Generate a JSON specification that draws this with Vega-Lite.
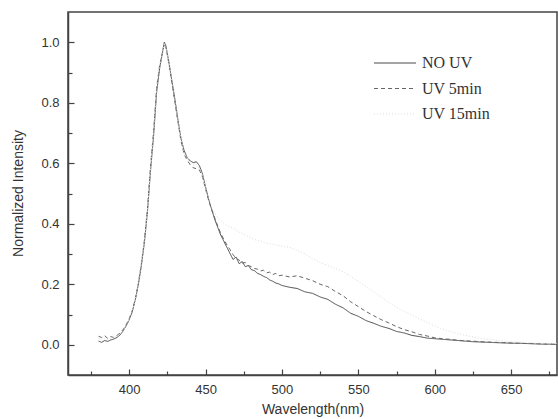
{
  "$schema": "https://vega.github.io/schema/vega-lite/v6.json",
  "autosize": {"type": "none"},
  "padding": {"left": 68, "top": 12, "right": 1, "bottom": 44},
  "width": 489,
  "height": 363,
  "background": "white",
  "config": {
    "view": {"stroke": "#444", "strokeWidth": 1.5},
    "axis": {
      "domainColor": "#444",
      "domainWidth": 1.5,
      "tickColor": "#444",
      "tickWidth": 1.2,
      "grid": false,
      "labelFont": "Liberation Sans",
      "labelFontSize": 13,
      "labelColor": "#333",
      "titleFont": "Liberation Sans",
      "titleFontSize": 14,
      "titleFontWeight": "normal",
      "titleColor": "#333"
    }
  },
  "data": {
    "values": [
      {"w": 380, "a": 0.012, "b": 0.028, "c": 0.020},
      {"w": 382, "a": 0.008, "b": 0.024, "c": 0.018},
      {"w": 384, "a": 0.014, "b": 0.030, "c": 0.022},
      {"w": 386, "a": 0.011, "b": 0.021, "c": 0.017},
      {"w": 388, "a": 0.016, "b": 0.027, "c": 0.021},
      {"w": 390, "a": 0.019, "b": 0.024, "c": 0.023},
      {"w": 392, "a": 0.024, "b": 0.031, "c": 0.028},
      {"w": 394, "a": 0.032, "b": 0.038, "c": 0.035},
      {"w": 396, "a": 0.045, "b": 0.050, "c": 0.047},
      {"w": 398, "a": 0.062, "b": 0.066, "c": 0.064},
      {"w": 400, "a": 0.082, "b": 0.086, "c": 0.084},
      {"w": 402, "a": 0.108, "b": 0.112, "c": 0.110},
      {"w": 404, "a": 0.148, "b": 0.150, "c": 0.150},
      {"w": 406, "a": 0.198, "b": 0.202, "c": 0.200},
      {"w": 408, "a": 0.262, "b": 0.268, "c": 0.265},
      {"w": 410, "a": 0.338, "b": 0.345, "c": 0.342},
      {"w": 412, "a": 0.440, "b": 0.450, "c": 0.445},
      {"w": 414, "a": 0.575, "b": 0.590, "c": 0.582},
      {"w": 416, "a": 0.690, "b": 0.705, "c": 0.698},
      {"w": 418, "a": 0.835, "b": 0.850, "c": 0.842},
      {"w": 420, "a": 0.915, "b": 0.925, "c": 0.920},
      {"w": 422, "a": 0.972, "b": 0.968, "c": 0.970},
      {"w": 423, "a": 1.000, "b": 0.995, "c": 0.998},
      {"w": 424, "a": 0.990, "b": 0.985, "c": 0.988},
      {"w": 426, "a": 0.935, "b": 0.930, "c": 0.935},
      {"w": 428, "a": 0.872, "b": 0.865, "c": 0.870},
      {"w": 430, "a": 0.810, "b": 0.800, "c": 0.805},
      {"w": 432, "a": 0.742, "b": 0.735, "c": 0.740},
      {"w": 434, "a": 0.680, "b": 0.672, "c": 0.676},
      {"w": 436, "a": 0.642, "b": 0.630, "c": 0.636},
      {"w": 438, "a": 0.618, "b": 0.610, "c": 0.615},
      {"w": 440, "a": 0.608, "b": 0.595, "c": 0.602},
      {"w": 442, "a": 0.602, "b": 0.585, "c": 0.594},
      {"w": 444, "a": 0.605, "b": 0.582, "c": 0.595},
      {"w": 446, "a": 0.592, "b": 0.578, "c": 0.585},
      {"w": 448, "a": 0.565, "b": 0.555, "c": 0.560},
      {"w": 450, "a": 0.522, "b": 0.515, "c": 0.518},
      {"w": 452, "a": 0.482, "b": 0.478, "c": 0.482},
      {"w": 454, "a": 0.448, "b": 0.446, "c": 0.455},
      {"w": 456, "a": 0.415, "b": 0.420, "c": 0.435},
      {"w": 458, "a": 0.388, "b": 0.392, "c": 0.420},
      {"w": 460, "a": 0.362, "b": 0.368, "c": 0.410},
      {"w": 462, "a": 0.342, "b": 0.348, "c": 0.402},
      {"w": 464, "a": 0.322, "b": 0.330, "c": 0.395},
      {"w": 466, "a": 0.302, "b": 0.315, "c": 0.390},
      {"w": 468, "a": 0.282, "b": 0.298, "c": 0.385},
      {"w": 470, "a": 0.290, "b": 0.285, "c": 0.378},
      {"w": 472, "a": 0.268, "b": 0.280, "c": 0.372},
      {"w": 474, "a": 0.275, "b": 0.270, "c": 0.368},
      {"w": 476, "a": 0.258, "b": 0.272, "c": 0.362},
      {"w": 478, "a": 0.262, "b": 0.262, "c": 0.358},
      {"w": 480, "a": 0.248, "b": 0.258, "c": 0.352},
      {"w": 482, "a": 0.245, "b": 0.252, "c": 0.348},
      {"w": 484, "a": 0.236, "b": 0.250, "c": 0.345},
      {"w": 486, "a": 0.232, "b": 0.244, "c": 0.342},
      {"w": 488, "a": 0.226, "b": 0.246, "c": 0.339},
      {"w": 490, "a": 0.222, "b": 0.238, "c": 0.336},
      {"w": 492, "a": 0.214, "b": 0.240, "c": 0.334},
      {"w": 494, "a": 0.210, "b": 0.232, "c": 0.332},
      {"w": 496, "a": 0.204, "b": 0.236, "c": 0.330},
      {"w": 498, "a": 0.201, "b": 0.228, "c": 0.328},
      {"w": 500, "a": 0.196, "b": 0.230, "c": 0.326},
      {"w": 505, "a": 0.190, "b": 0.224, "c": 0.322},
      {"w": 510, "a": 0.186, "b": 0.228, "c": 0.312},
      {"w": 515, "a": 0.175, "b": 0.220, "c": 0.300},
      {"w": 520, "a": 0.170, "b": 0.212, "c": 0.285},
      {"w": 525, "a": 0.158, "b": 0.200, "c": 0.272},
      {"w": 530, "a": 0.150, "b": 0.192, "c": 0.262},
      {"w": 535, "a": 0.134, "b": 0.176, "c": 0.252},
      {"w": 540, "a": 0.122, "b": 0.162, "c": 0.242},
      {"w": 545, "a": 0.104, "b": 0.142, "c": 0.226},
      {"w": 550, "a": 0.094, "b": 0.126, "c": 0.210},
      {"w": 555, "a": 0.080, "b": 0.110, "c": 0.192},
      {"w": 560, "a": 0.071, "b": 0.096, "c": 0.175},
      {"w": 565, "a": 0.061, "b": 0.083, "c": 0.158},
      {"w": 570, "a": 0.054, "b": 0.072, "c": 0.140},
      {"w": 575, "a": 0.044, "b": 0.060, "c": 0.124},
      {"w": 580, "a": 0.039, "b": 0.050, "c": 0.110},
      {"w": 585, "a": 0.031, "b": 0.043, "c": 0.098},
      {"w": 590, "a": 0.027, "b": 0.034, "c": 0.086},
      {"w": 595, "a": 0.022, "b": 0.029, "c": 0.074},
      {"w": 600, "a": 0.020, "b": 0.023, "c": 0.062},
      {"w": 605, "a": 0.018, "b": 0.020, "c": 0.052},
      {"w": 610, "a": 0.016, "b": 0.018, "c": 0.044},
      {"w": 615, "a": 0.014, "b": 0.015, "c": 0.037},
      {"w": 620, "a": 0.012, "b": 0.013, "c": 0.031},
      {"w": 625, "a": 0.010, "b": 0.012, "c": 0.026},
      {"w": 630, "a": 0.009, "b": 0.010, "c": 0.021},
      {"w": 635, "a": 0.008, "b": 0.009, "c": 0.018},
      {"w": 640, "a": 0.007, "b": 0.008, "c": 0.015},
      {"w": 645, "a": 0.006, "b": 0.007, "c": 0.012},
      {"w": 650, "a": 0.005, "b": 0.006, "c": 0.010},
      {"w": 655, "a": 0.005, "b": 0.005, "c": 0.009},
      {"w": 660, "a": 0.004, "b": 0.004, "c": 0.008},
      {"w": 665, "a": 0.003, "b": 0.004, "c": 0.006},
      {"w": 670, "a": 0.002, "b": 0.003, "c": 0.005},
      {"w": 675, "a": 0.002, "b": 0.002, "c": 0.004},
      {"w": 680, "a": 0.001, "b": 0.002, "c": 0.004}
    ]
  },
  "transform": [
    {"fold": ["a", "b", "c"], "as": ["key", "v"]},
    {"lookup": "key", "from": {"data": {"values": [
      {"key": "a", "series": "NO UV"},
      {"key": "b", "series": "UV 5min"},
      {"key": "c", "series": "UV 15min"}
    ]}, "key": "key", "fields": ["series"]}}
  ],
  "mark": {"type": "line", "strokeWidth": 1, "clip": true},
  "encoding": {
    "x": {
      "field": "w",
      "type": "quantitative",
      "scale": {"domain": [360, 680], "nice": false, "zero": false},
      "axis": {
        "title": "Wavelength(nm)",
        "values": [375, 400, 425, 450, 475, 500, 525, 550, 575, 600, 625, 650, 675],
        "labelExpr": "datum.value % 50 === 0 ? datum.label : ''",
        "tickSize": {"condition": {"test": "datum.value % 50 === 0", "value": -6}, "value": -4},
        "labelPadding": 14,
        "titleY": 34,
        "titleBaseline": "middle"
      }
    },
    "y": {
      "field": "v",
      "type": "quantitative",
      "scale": {"domain": [-0.1, 1.1], "nice": false, "zero": false},
      "axis": {
        "title": "Normalized Intensity",
        "values": [0, 0.1, 0.2, 0.3, 0.4, 0.5, 0.6, 0.7, 0.8, 0.9, 1.0],
        "format": ".1f",
        "labelExpr": "round(datum.value * 10) % 2 === 0 ? datum.label : ''",
        "tickSize": {"condition": {"test": "round(datum.value * 10) % 2 === 0", "value": -6}, "value": -4},
        "labelPadding": 15,
        "titleX": -50,
        "titleY": 181,
        "titleBaseline": "middle",
        "titleAlign": "center",
        "titleAngle": -90
      }
    },
    "color": {
      "field": "series",
      "type": "nominal",
      "sort": ["NO UV", "UV 5min", "UV 15min"],
      "scale": {"domain": ["NO UV", "UV 5min", "UV 15min"], "range": ["#4a4a4a", "#666666", "#dcdcdc"]},
      "legend": {
        "title": null,
        "orient": "none",
        "legendX": 316,
        "legendY": 40,
        "symbolType": "M-2,0H2",
        "symbolSize": 441,
        "symbolStrokeWidth": 1,
        "labelFont": "Liberation Serif",
        "labelFontSize": 16,
        "labelColor": "#333",
        "labelOffset": 16,
        "rowPadding": 6.5
      }
    },
    "strokeDash": {
      "field": "series",
      "type": "nominal",
      "sort": ["NO UV", "UV 5min", "UV 15min"],
      "scale": {"domain": ["NO UV", "UV 5min", "UV 15min"], "range": [[1, 0], [4, 3], [1, 2]]}
    }
  }
}
